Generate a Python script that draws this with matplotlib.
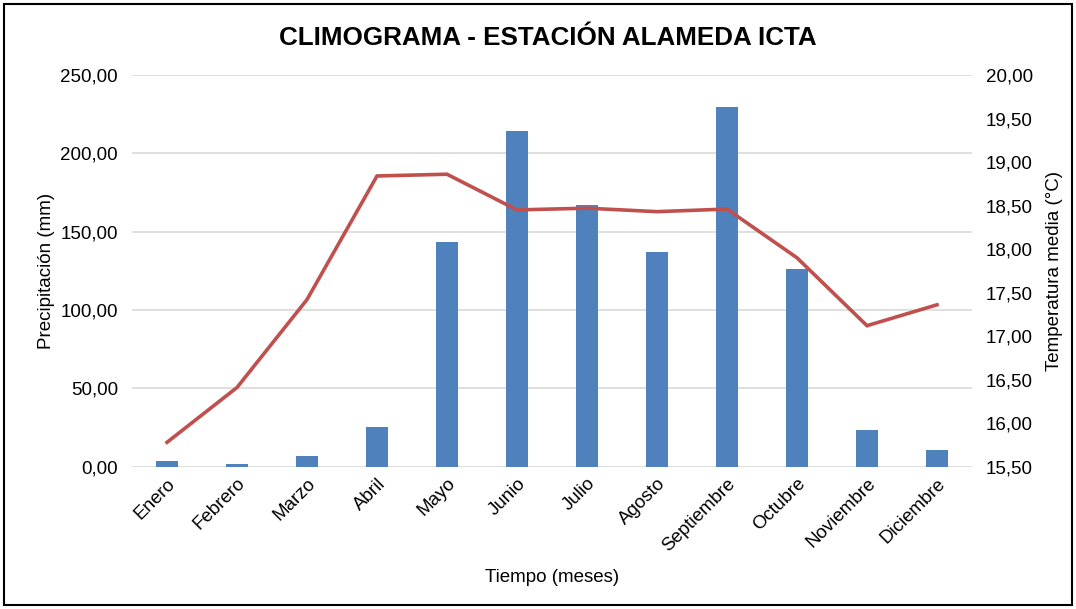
import matplotlib
matplotlib.use("Agg")
import matplotlib.pyplot as plt
from matplotlib.ticker import FuncFormatter, MultipleLocator
from matplotlib.patches import Rectangle

plt.rcParams['font.family'] = ['Liberation Sans', 'DejaVu Sans']

months = ["Enero", "Febrero", "Marzo", "Abril", "Mayo", "Junio", "Julio",
          "Agosto", "Septiembre", "Octubre", "Noviembre", "Diciembre"]
precip = [3.5, 1.7, 6.9, 25.4, 143.5, 214.0, 166.8, 137.0, 229.3, 126.0, 23.5, 10.9]
temp = [15.78, 16.41, 17.42, 18.84, 18.86, 18.45, 18.47, 18.43, 18.46, 17.90, 17.12, 17.36]

title = "CLIMOGRAMA - ESTACIÓN ALAMEDA ICTA"
xlabel = "Tiempo (meses)"
ylabel_left = "Precipitación (mm)"
ylabel_right = "Temperatura media (°C)"

FS = 13.5
W, H = 1076, 609
fig = plt.figure(figsize=(W / 100, H / 100), dpi=100)
ax = fig.add_axes([132 / W, 1 - 466.7 / H, 840 / W, (466.7 - 75) / H])

x = list(range(len(months)))
ax.bar(x, precip, width=0.31, color="#4f81bd", zorder=3)
ax.set_xlim(-0.5, len(months) - 0.5)
ax.set_ylim(0, 250)
ax.yaxis.set_major_locator(MultipleLocator(50))
comma = FuncFormatter(lambda v, p: f"{v:.2f}".replace(".", ","))
ax.yaxis.set_major_formatter(comma)
ax.grid(axis="y", color="#d9d9d9", linewidth=1.2, zorder=0)
for s in ax.spines.values():
    s.set_visible(False)
ax.tick_params(axis="both", length=0, labelsize=FS, colors="#000000")
ax.tick_params(axis="y", pad=10)
ax.set_xticks(x)
ax.set_xticklabels(months, rotation=45, ha="right", rotation_mode="anchor", fontsize=FS)
ax.tick_params(axis="x", pad=6)
ax.set_ylabel(ylabel_left, fontsize=FS, labelpad=4)
ax.set_xlabel(xlabel, fontsize=FS, labelpad=10)

ax2 = ax.twinx()
ax2.plot(x, temp, color="#c0504d", linewidth=2.6, solid_joinstyle="miter", zorder=4)
ax2.set_ylim(15.5, 20)
ax2.yaxis.set_major_locator(MultipleLocator(0.5))
ax2.yaxis.set_major_formatter(comma)
for s in ax2.spines.values():
    s.set_visible(False)
ax2.tick_params(axis="y", length=0, labelsize=FS, pad=10)
ax2.set_ylabel(ylabel_right, fontsize=FS, labelpad=9)

fig.text(548 / W, 1 - 38 / H, title, ha="center", va="center", fontsize=18.7, fontweight="bold")

fig.patches.append(Rectangle((4 / W, 4 / H), 1 - 8 / W, 1 - 8 / H, transform=fig.transFigure,
                             fill=False, edgecolor="#000000", linewidth=1.5))

fig.savefig("out.png", dpi=100)
